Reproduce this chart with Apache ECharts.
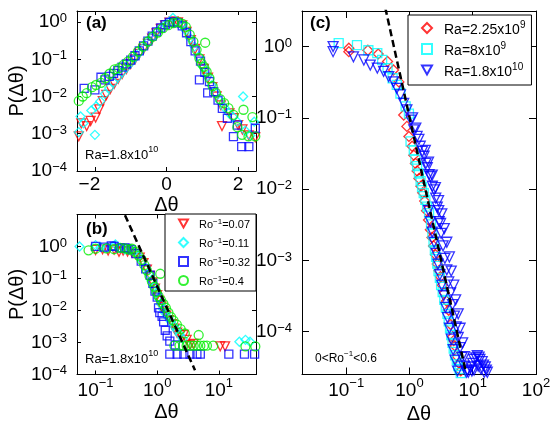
<!DOCTYPE html>
<html>
<head>
<meta charset="utf-8">
<script src="https://cdn.jsdelivr.net/npm/echarts@6/dist/echarts.min.js"></script>
<style>
  html, body { margin: 0; padding: 0; background: #fff; }
  #chart { width: 550px; height: 426px; }
</style>
</head>
<body>
<div id="chart"></div>
<script>
// ---------- data: PDFs of temperature increments, P(Δθ) ----------
// panel (a): linear Δθ, Ra = 1.8x10^10, four rotation rates
const aRo007 = [[-2.45,0.00085],[-2.38,0.0019],[-2.23,0.0016],[-2.12,0.0022],[-1.98,0.0027],[-1.88,0.0045],[-1.78,0.0075],[-1.68,0.011],[-1.57,0.016],[-1.46,0.022],[-1.35,0.030],[-1.24,0.040],[-1.12,0.055],[-1.0,0.075],[-0.88,0.10],[-0.76,0.14],[-0.64,0.19],[-0.52,0.26],[-0.40,0.36],[-0.28,0.50],[-0.16,0.66],[-0.04,0.82],[0.08,0.97],[0.2,1.05],[0.32,0.98],[0.44,0.82],[0.56,0.55],[0.68,0.33],[0.8,0.19],[0.92,0.10],[1.04,0.055],[1.16,0.032],[1.28,0.018],[1.40,0.010],[1.52,0.0058],[1.55,0.0016],[1.76,0.0035],[1.88,0.0026],[2.0,0.0017],[2.12,0.0013],[2.3,0.0009],[2.48,0.0008]];
const aRo011 = [[-2.45,0.0011],[-2.40,0.0029],[-2.32,0.0019],[-2.0,0.00093],[-2.1,0.0042],[-1.97,0.0054],[-1.85,0.0074],[-1.72,0.0118],[-1.60,0.017],[-1.48,0.024],[-1.36,0.033],[-1.24,0.045],[-1.12,0.06],[-1.0,0.08],[-0.88,0.11],[-0.76,0.15],[-0.64,0.21],[-0.52,0.29],[-0.40,0.40],[-0.28,0.54],[-0.16,0.70],[-0.04,0.86],[0.08,1.02],[0.18,1.3],[0.30,1.0],[0.42,0.85],[0.54,0.6],[0.66,0.37],[0.78,0.22],[0.90,0.12],[1.02,0.063],[1.14,0.035],[1.26,0.02],[1.38,0.012],[1.50,0.0075],[1.62,0.005],[1.74,0.0036],[1.86,0.0028],[1.98,0.0021],[2.14,0.01],[2.2,0.0012],[2.34,0.0009],[2.45,0.0021]];
const aRo032 = [[-2.3,0.0165],[-2.0,0.0151],[-1.83,0.033],[-1.72,0.028],[-1.6,0.035],[-1.48,0.042],[-1.36,0.05],[-1.24,0.062],[-1.12,0.075],[-1.0,0.095],[-0.88,0.125],[-0.76,0.17],[-0.64,0.23],[-0.52,0.31],[-0.40,0.42],[-0.28,0.55],[-0.16,0.70],[-0.04,0.86],[0.08,0.98],[0.2,1.02],[0.32,0.96],[0.44,0.8],[0.56,0.52],[0.68,0.3],[0.8,0.17],[0.92,0.028],[0.95,0.09],[1.07,0.045],[1.15,0.0126],[1.2,0.025],[1.32,0.0135],[1.44,0.008],[1.56,0.0048],[1.7,0.0026],[1.87,0.00083],[1.98,0.0017],[2.1,0.00045],[2.3,0.00045],[2.48,0.0014]];
const aRo04 = [[-2.45,0.0076],[-2.34,0.0100],[-2.23,0.0123],[-2.08,0.0178],[-1.97,0.0204],[-1.83,0.0234],[-1.71,0.031],[-1.59,0.041],[-1.45,0.054],[-1.33,0.058],[-1.20,0.071],[-1.08,0.087],[-0.94,0.117],[-0.80,0.162],[-0.66,0.219],[-0.52,0.302],[-0.38,0.407],[-0.24,0.525],[-0.10,0.69],[0.05,0.83],[0.19,0.95],[0.33,1.0],[0.45,0.9],[0.54,0.75],[0.65,0.46],[0.75,0.30],[0.84,0.18],[0.92,0.107],[0.98,0.078],[1.05,0.063],[1.08,0.28],[1.12,0.047],[1.20,0.031],[1.29,0.019],[1.38,0.0125],[1.50,0.0085],[1.61,0.0066],[1.73,0.0049],[1.87,0.0032],[1.98,0.0015],[2.11,0.00093],[2.15,0.0044],[2.29,0.00085],[2.4,0.0028],[2.48,0.00085]];

// panel (b): |Δθ| on log scale, same runs
const bRo007 = [[0.1,0.78],[0.13,0.82],[0.16,0.75],[0.2,0.8],[0.24,0.68],[0.28,0.74],[0.33,0.7],[0.39,0.65],[0.45,0.58],[0.52,0.45],[0.6,0.3],[0.68,0.19],[0.76,0.12],[0.84,0.075],[0.92,0.048],[1.0,0.03],[1.08,0.02],[1.17,0.013],[1.27,0.0095],[1.4,0.0068],[1.55,0.005],[1.72,0.0037],[1.9,0.0027],[2.1,0.002],[2.36,0.0017],[2.7,0.0017],[3.0,0.0012],[3.4,0.00083],[3.9,0.0009],[10.5,0.00075],[12.6,0.00075]];
const bRo011 = [[0.055,1.0],[0.1,1.1],[0.12,0.95],[0.15,0.9],[0.19,1.0],[0.21,1.15],[0.25,0.9],[0.3,0.8],[0.36,0.78],[0.42,0.7],[0.5,0.5],[0.57,0.36],[0.65,0.22],[0.73,0.14],[0.81,0.085],[0.89,0.055],[0.97,0.035],[1.05,0.024],[1.14,0.016],[1.24,0.011],[1.36,0.008],[1.5,0.006],[1.66,0.0045],[1.85,0.0033],[2.05,0.0025],[2.3,0.0018],[2.6,0.0013],[21.5,0.00105],[27,0.0012],[32,0.00105]];
const bRo032 = [[0.1,1.0],[0.14,0.95],[0.18,1.05],[0.2,1.0],[0.25,0.9],[0.3,0.9],[0.32,0.87],[0.38,0.8],[0.45,0.6],[0.55,0.35],[0.65,0.2],[0.77,0.126],[0.85,0.07],[0.92,0.04],[1.0,0.026],[1.05,0.012],[1.1,0.0085],[1.2,0.0065],[1.27,0.0044],[1.35,0.0024],[1.45,0.0016],[1.6,0.0011],[1.96,0.00083],[1.6,0.00043],[2.1,0.00043],[2.7,0.00043],[3.4,0.00043],[4.4,0.00043],[5.0,0.00043],[14.5,0.00043],[26,0.00043],[38,0.00043]];
const bRo04 = [[0.077,0.76],[0.1,0.85],[0.15,0.87],[0.2,0.82],[0.25,0.9],[0.3,0.87],[0.35,0.8],[0.39,0.85],[0.44,0.68],[0.5,0.52],[0.56,0.38],[0.62,0.26],[0.68,0.18],[0.75,0.12],[0.82,0.08],[0.9,0.055],[0.97,0.038],[1.05,0.028],[1.12,0.14],[1.15,0.021],[1.26,0.016],[1.38,0.012],[1.52,0.0085],[1.68,0.0062],[1.84,0.0048],[2.08,0.0036],[2.4,0.0026],[2.8,0.0019],[4.7,0.0017],[1.9,0.00079],[2.3,0.00079],[2.65,0.00079],[3.0,0.00079],[3.45,0.00079],[3.9,0.00079],[4.4,0.00079],[5.0,0.00079],[5.7,0.00079],[6.4,0.00079],[8.1,0.00079],[27,0.00075],[39,0.00075]];
const bPowerLaw = [[0.3,9.5],[4.1,0.000135]];

// panel (c): three Rayleigh numbers, 0 < Ro^-1 < 0.6
const cRa225e9 = [[0.11,0.95],[0.11,0.85],[0.22,0.89],[0.32,0.79],[0.45,0.62],[0.56,0.47],[0.68,0.32],[0.81,0.11],[0.91,0.076],[0.98,0.055],[1.1,0.04],[1.17,0.03],[1.24,0.023],[1.32,0.018],[1.41,0.0141],[1.52,0.011],[1.62,0.0089],[1.74,0.0068],[1.86,0.005],[2.0,0.0037],[2.14,0.0027],[2.27,0.0021],[2.4,0.0016],[2.58,0.0012],[2.75,0.00089],[2.92,0.00072],[3.09,0.00059],[3.3,0.00045],[3.55,0.00035],[3.85,0.00027],[4.17,0.0002],[4.47,0.000126],[4.79,0.000085],[5.0,0.000075],[5.25,0.000063],[5.75,0.0000447],[6.1,0.000036],[6.46,0.0000282]];
const cRa8e9 = [[0.076,1.12],[0.148,1.05],[0.224,0.89],[0.31,0.81],[0.37,0.65],[0.45,0.5],[0.54,0.36],[0.63,0.29],[0.72,0.22],[0.87,0.145],[0.98,0.115],[1.04,0.047],[1.17,0.035],[1.24,0.026],[1.32,0.021],[1.41,0.0166],[1.5,0.013],[1.58,0.0107],[1.68,0.0088],[1.78,0.0071],[1.9,0.0057],[2.04,0.0046],[2.19,0.0032],[2.3,0.0024],[2.4,0.0018],[2.52,0.0014],[2.63,0.00112],[2.75,0.0009],[2.88,0.00071],[3.02,0.00057],[3.16,0.00045],[3.35,0.00036],[3.55,0.00028],[3.75,0.00022],[3.98,0.000178],[4.17,0.00014],[4.37,0.000112],[4.57,0.00009],[4.79,0.00007],[5.0,0.000058],[5.25,0.0000468],[5.6,0.00004],[5.89,0.000033],[6.2,0.00003],[6.46,0.0000263]];
const cRa18e10 = [[0.062,1.0],[0.062,0.85],[0.13,0.72],[0.19,0.65],[0.24,0.55],[0.31,0.5],[0.39,0.45],[0.47,0.38],[0.56,0.32],[0.63,0.26],[0.72,0.21],[0.81,0.16],[0.91,0.13],[1.05,0.093],[1.17,0.068],[1.32,0.055],[1.48,0.04],[1.7,0.029],[1.91,0.02],[2.14,0.015],[2.45,0.0098],[2.75,0.0056],[2.95,0.0035],[3.16,0.0024],[3.39,0.0016],[3.63,0.00107],[3.89,0.00074],[4.17,0.0005],[4.47,0.00035],[4.79,0.00024],[5.13,0.000166],[5.5,0.000117],[5.89,0.000083],[6.31,0.00006],[6.76,0.0000437],[7.24,0.000033],[7.94,0.0000269],
  [1.12,0.1],[1.26,0.072],[1.41,0.05],[1.6,0.034],[1.82,0.023],[2.04,0.016],[2.3,0.011],[2.6,0.0075],[2.9,0.005],[3.1,0.0033],
  [1.78,0.035],[2.0,0.024],[2.29,0.0158],[2.57,0.0105],[2.88,0.0069],[3.24,0.0045],[3.55,0.0028],[3.89,0.0018],[4.27,0.00112],[4.57,0.00071],[5.01,0.00045],[5.37,0.00028],[5.89,0.000178],[6.31,0.000112],[6.92,0.00007],[7.41,0.0000447],
  [2.0,0.005],[2.14,0.0035],[2.29,0.0025],[2.45,0.0018],[2.63,0.00126],[2.82,0.00089],[3.02,0.00063],[3.24,0.00045],[3.47,0.00032],[3.72,0.00022],[3.98,0.000158],[4.27,0.000112],[4.57,0.000079],[4.9,0.000056],[5.25,0.00004],[5.75,0.000028],
  [8.2,0.000029],[8.5,0.000027],[8.9,0.000025],[9.3,0.000032],[9.7,0.000028],[10,0.000036],[10.4,0.000041],[10.5,0.000029],[11.2,0.000043],[11.8,0.000046],[12.2,0.000033],[12.6,0.000044],[13.0,0.000041],[13.5,0.00003],[14.1,0.000038],[14.8,0.000034],[15.2,0.000027],[15.8,0.000032],[16.4,0.000029],[17,0.000027],[17.8,0.000025]];
const cPowerLaw = [[0.415,3.5],[7.8,0.000027]];

// legend labels (rich text with superscripts)
const roNames = ['Ro-1=0.07', 'Ro-1=0.11', 'Ro-1=0.32', 'Ro-1=0.4'];
const roLabels = ['{g| }{t|Ro}{s|\u22121}{t|=0.07}', '{g| }{t|Ro}{s|\u22121}{t|=0.11}', '{g| }{t|Ro}{s|\u22121}{t|=0.32}', '{g| }{t|Ro}{s|\u22121}{t|=0.4}'];
const raNames = ['Ra=2.25x10^9', 'Ra=8x10^9', 'Ra=1.8x10^10'];
const raLabels = ['{g| }{t|Ra=2.25x10}{s|9}', '{g| }{t|Ra=8x10}{s|9}', '{g| }{t|Ra=1.8x10}{s|10}'];

// ---------- styling ----------
const FONT = "'Liberation Sans', Arial, Helvetica, sans-serif";
const INK = '#000';
const RED = '#ff0000', CYAN = '#00ffff', BLUE = '#0000ff', GREEN = '#00ee00';
const TRI_DOWN = 'path://M0,0L10,0L5,9Z';

function powLabel(v) {
  const l = Math.log10(v), e = Math.round(l);
  if (Math.abs(l - e) > 1e-6) return '';
  return '{b|10}{s|' + (e < 0 ? '\u2212' + (-e) : String(e)) + '}';
}
const richY = {
  b: { fontSize: 19, fontFamily: FONT, color: INK, lineHeight: 20, padding: [11, 0, 11, 0] },
  s: { fontSize: 13, fontFamily: FONT, color: INK, lineHeight: 14, verticalAlign: 'top' }
};
const richX = {
  b: { fontSize: 19, fontFamily: FONT, color: INK, lineHeight: 20, padding: [8, 0, 0, 0] },
  s: { fontSize: 13, fontFamily: FONT, color: INK, lineHeight: 14, verticalAlign: 'top' }
};

function axisBase(g, type, min, max, tickLen, split) {
  const ax = {
    gridIndex: g, type: type, min: min, max: max, splitNumber: split,
    splitLine: { show: false },
    axisLine: { show: true, onZero: false, lineStyle: { color: INK, width: 1 } },
    axisTick: { show: true, inside: true, length: tickLen, lineStyle: { color: INK, width: 1 } }
  };
  if (type === 'log') ax.logBase = 10;
  return ax;
}
function makeX(g, type, min, max, tickLen, split, label, name, gap) {
  const main = Object.assign(axisBase(g, type, min, max, tickLen, split), {
    position: 'bottom', axisLabel: label,
    name: name, nameLocation: 'middle', nameGap: gap,
    nameTextStyle: { fontSize: 20, fontFamily: FONT, color: INK }
  });
  const mirror = Object.assign(axisBase(g, type, min, max, tickLen, split), {
    position: 'top', axisLabel: { show: false }
  });
  return [main, mirror];
}
function makeY(g, type, min, max, tickLen, split, label, name, gap) {
  const main = Object.assign(axisBase(g, type, min, max, tickLen, split), {
    position: 'left', axisLabel: label,
    name: name, nameLocation: 'middle', nameGap: gap, nameRotate: 90,
    nameTextStyle: { fontSize: 20, fontFamily: FONT, color: INK }
  });
  const mirror = Object.assign(axisBase(g, type, min, max, tickLen, split), {
    position: 'right', axisLabel: { show: false }
  });
  return [main, mirror];
}
// the outermost ticks sit just past the box edges and carry no text
const yLogLabel = { formatter: powLabel, rich: richY, margin: 10, hideOverlap: false, showMinLabel: false, showMaxLabel: false };
const xLogLabel = { formatter: powLabel, rich: richX, margin: 2, hideOverlap: false };
const xLinLabel = {
  margin: 4, showMinLabel: false, showMaxLabel: false, hideOverlap: false,
  formatter: function (v) {
    if (Math.abs(v - Math.round(v)) > 1e-9 || Math.round(v) % 2 !== 0) return '';
    return v < 0 ? '{n|\u2212' + (-v) + '}{g| }' : '{n|' + v + '}';
  },
  rich: { n: { fontSize: 19, fontFamily: FONT, color: INK, lineHeight: 20 }, g: { width: 11 } }
};

function scatter(name, data, g, symbol, color, size) {
  return {
    type: 'scatter', name: name, data: data,
    xAxisIndex: 2 * g, yAxisIndex: 2 * g,
    symbol: symbol, symbolSize: size,
    itemStyle: { color: 'rgba(0,0,0,0)', borderColor: color, borderWidth: 1.3 },
    emphasis: { disabled: true }, silent: true
  };
}
function dashed(data, g) {
  return {
    type: 'line', data: data, xAxisIndex: 2 * g, yAxisIndex: 2 * g,
    symbol: 'none', silent: true, z: 5, clip: true,
    lineStyle: { color: INK, width: 2.5, type: [7, 4] }
  };
}

const xAxes = [].concat(
  makeX(0, 'value', -2.5, 2.5, 4, 3, xLinLabel, '\u0394\u03b8', 21),
  makeX(1, 'log', 0.05, 40, 4, 3, xLogLabel, '\u0394\u03b8', 28),
  makeX(2, 'log', 0.02, 100, 7, 4, xLogLabel, '\u0394\u03b8', 29)
);
const yAxes = [].concat(
  makeY(0, 'log', 0.99e-4, 2, 4, 5, yLogLabel, 'P(\u0394\u03b8)', 43),
  makeY(1, 'log', 0.99e-4, 10, 4, 5, yLogLabel, 'P(\u0394\u03b8)', 43),
  makeY(2, 'log', Math.pow(10, -4.6), Math.pow(10, 0.5), 7, 5, yLogLabel, '', 0)
);

function txt(x, y, text, rich, extra) {
  return {
    type: 'text', x: x, y: y, silent: true,
    style: Object.assign({ text: text, rich: rich, fill: INK, fontFamily: FONT, verticalAlign: 'middle' }, extra || {})
  };
}
const noteRich = {
  t: { fontSize: 13, fontFamily: FONT, color: INK, lineHeight: 15, padding: [4, 0, 0, 0] },
  s: { fontSize: 9, fontFamily: FONT, color: INK, lineHeight: 10, verticalAlign: 'top' }
};
const smallRich = {
  t: { fontSize: 12, fontFamily: FONT, color: INK, lineHeight: 14, padding: [3, 0, 0, 0] },
  s: { fontSize: 8, fontFamily: FONT, color: INK, lineHeight: 9, verticalAlign: 'top' }
};
const tagStyle = { fontSize: 17, fontWeight: 'bold' };

const option = {
  animation: false,
  backgroundColor: '#fff',
  grid: [
    { left: 77, top: 11, width: 179, height: 160, outerBoundsMode: 'none', containLabel: false },
    { left: 77, top: 214.5, width: 179, height: 160, outerBoundsMode: 'none', containLabel: false },
    { left: 302, top: 11, width: 234, height: 363.5, outerBoundsMode: 'none', containLabel: false }
  ],
  xAxis: xAxes,
  yAxis: yAxes,
  legend: [
    {
      data: roNames, left: 165, top: 214, orient: 'vertical', selectedMode: false,
      itemWidth: 9, itemHeight: 9, itemGap: 6, padding: [3, 6, 4, 13],
      backgroundColor: '#fff', borderColor: INK, borderWidth: 1, borderRadius: 0,
      formatter: function (n) { return roLabels[roNames.indexOf(n)]; },
      textStyle: {
        color: INK, rich: {
          g: { width: 6, lineHeight: 8 },
          t: { fontSize: 11, fontFamily: FONT, color: INK, lineHeight: 12, padding: [2, 0, 0, 0] },
          s: { fontSize: 8, fontFamily: FONT, color: INK, lineHeight: 8, verticalAlign: 'top' }
        }
      }
    },
    {
      data: raNames, left: 408, top: 15, orient: 'vertical', selectedMode: false,
      itemWidth: 10, itemHeight: 10, itemGap: 3, padding: [4, 6, 6, 13],
      backgroundColor: '#fff', borderColor: INK, borderWidth: 1, borderRadius: 0,
      formatter: function (n) { return raLabels[raNames.indexOf(n)]; },
      textStyle: {
        color: INK, rich: {
          g: { width: 7, lineHeight: 8 },
          t: { fontSize: 14, fontFamily: FONT, color: INK, lineHeight: 16, padding: [4, 0, 0, 0] },
          s: { fontSize: 10, fontFamily: FONT, color: INK, lineHeight: 10, verticalAlign: 'top' }
        }
      }
    }
  ],
  series: [
    scatter(roNames[0], aRo007, 0, TRI_DOWN, RED, 9),
    scatter(roNames[1], aRo011, 0, 'diamond', CYAN, 9),
    scatter(roNames[2], aRo032, 0, 'rect', BLUE, 8),
    scatter(roNames[3], aRo04, 0, 'circle', GREEN, 9),
    scatter(roNames[0], bRo007, 1, TRI_DOWN, RED, 9),
    scatter(roNames[1], bRo011, 1, 'diamond', CYAN, 9),
    scatter(roNames[2], bRo032, 1, 'rect', BLUE, 8),
    scatter(roNames[3], bRo04, 1, 'circle', GREEN, 9),
    dashed(bPowerLaw, 1),
    scatter(raNames[0], cRa225e9, 2, 'diamond', RED, 10),
    scatter(raNames[1], cRa8e9, 2, 'rect', CYAN, 9),
    scatter(raNames[2], cRa18e10, 2, TRI_DOWN, BLUE, 10),
    dashed(cPowerLaw, 2)
  ],
  graphic: [
    txt(86, 23, '(a)', null, tagStyle),
    txt(86, 229, '(b)', null, tagStyle),
    txt(310, 23, '(c)', null, tagStyle),
    txt(85, 153, '{t|Ra=1.8x10}{s|10}', noteRich),
    txt(85, 357, '{t|Ra=1.8x10}{s|10}', noteRich),
    txt(315, 357, '{t|0<Ro}{s|\u22121}{t|<0.6}', smallRich)
  ]
};

const chart = echarts.init(document.getElementById('chart'), null, { renderer: 'canvas' });
chart.setOption(option);
</script>
</body>
</html>
